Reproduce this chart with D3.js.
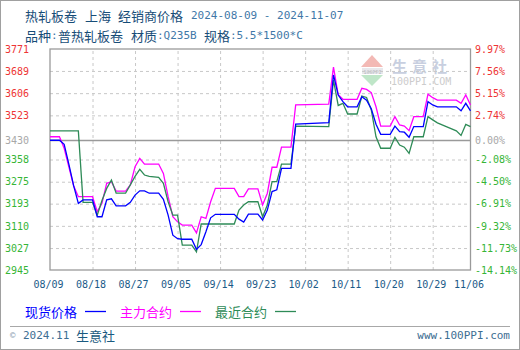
<!DOCTYPE html>
<html>
<head>
<meta charset="utf-8">
<script src="https://cdn.jsdelivr.net/npm/d3@7"></script>
<style>
  body { margin: 0; background: #fff; }
  svg { display: block; }
</style>
</head>
<body>
<div class="container"></div>
<script>
// 现货价格 (spot)
const spotDates = ["08/09","08/11","08/12","08/13","08/14","08/15","08/16","08/18","08/19","08/20","08/21","08/22","08/23","08/25","08/26","08/27","08/28","08/29","08/30","09/01","09/02","09/03","09/04","09/05","09/06","09/08","09/09","09/10","09/11","09/12","09/13","09/17","09/18","09/19","09/20","09/22","09/23","09/24","09/25","09/26","09/27","09/29","09/30","10/07","10/08","10/09","10/10","10/11","10/13","10/14","10/15","10/16","10/17","10/18","10/20","10/21","10/22","10/23","10/24","10/25","10/27","10/28","10/29","10/30","11/03","11/04","11/05","11/06"];
const spotPrices = [3430,3430,3415,3340,3260,3194,3207,3207,3144,3144,3207,3211,3185,3185,3198,3225,3241,3241,3232,3232,3209,3150,3075,3062,3060,3060,3022,3040,3088,3140,3153,3153,3135,3124,3154,3154,3132,3169,3238,3245,3325,3325,3490,3496,3674,3599,3574,3555,3555,3593,3580,3548,3490,3452,3452,3483,3462,3460,3441,3481,3481,3574,3562,3555,3555,3540,3568,3540];

// 主力合约 (main contract)
const mainDates = ["08/09","08/11","08/12","08/13","08/14","08/15","08/18","08/19","08/20","08/21","08/22","08/23","08/25","08/26","08/27","08/28","08/29","09/01","09/02","09/03","09/04","09/05","09/06","09/08","09/09","09/10","09/11","09/12","09/13","09/17","09/18","09/19","09/20","09/22","09/23","09/24","09/25","09/26","09/27","09/29","09/30","10/07","10/08","10/09","10/10","10/13","10/14","10/15","10/16","10/17","10/18","10/20","10/21","10/22","10/23","10/24","10/25","10/27","10/28","10/29","10/30","11/03","11/04","11/05","11/06"];
const mainPrices = [3443,3443,3400,3330,3260,3219,3219,3163,3194,3269,3275,3240,3240,3263,3331,3362,3341,3341,3306,3219,3144,3125,3113,3113,3084,3144,3138,3200,3250,3250,3219,3219,3248,3248,3188,3232,3329,3329,3404,3404,3562,3565,3703,3600,3583,3583,3624,3620,3608,3555,3483,3483,3518,3487,3483,3466,3518,3518,3602,3589,3580,3580,3568,3599,3562];

// 最近合约 (nearest contract)
const nearDates = ["08/09","08/15","08/16","08/18","08/19","08/20","08/21","08/22","08/23","08/25","08/26","08/27","08/28","08/29","08/30","09/01","09/02","09/03","09/04","09/05","09/06","09/08","09/09","09/10","09/17","09/18","09/19","09/20","09/22","09/23","09/24","09/25","09/26","09/27","09/29","09/30","10/07","10/08","10/09","10/10","10/11","10/13","10/14","10/15","10/16","10/17","10/18","10/20","10/21","10/22","10/23","10/24","10/25","10/27","10/28","10/29","10/30","11/01","11/03","11/04","11/05","11/06"];
const nearPrices = [3465,3465,3198,3198,3150,3205,3250,3281,3232,3232,3263,3295,3321,3300,3295,3291,3269,3200,3150,3150,3038,3038,3013,3117,3117,3169,3188,3200,3200,3144,3188,3275,3275,3341,3341,3483,3481,3655,3560,3568,3528,3528,3595,3590,3543,3443,3400,3400,3441,3412,3404,3381,3443,3443,3518,3506,3495,3480,3465,3448,3489,3481];

const xTickLabels = ["08/09","08/18","08/27","09/05","09/14","09/23","10/02","10/11","10/20","10/29","11/06"];
const yTickValues = [3771,3689,3606,3523,3430,3358,3275,3193,3110,3027,2945];
const pctTickLabels = ["9.97%","7.56%","5.15%","2.74%","0.00%","-2.08%","-4.50%","-6.91%","-9.32%","-11.73%","-14.14%"];
const basePrice = 3430;

const seriesNames = ["现货价格", "主力合约", "最近合约"];
const seriesColors = ["#0000ff", "#ff00ff", "#2e8b57"];

const parse = d3.timeParse("%Y/%m/%d");
const toDate = s => parse("2024/" + s);
const toPoints = (dates, vals) => dates.map((d, i) => ({ date: toDate(d), value: vals[i] }));

const mono = "'DejaVu Sans Mono', 'Liberation Mono', monospace";
const cjk = "'Noto Sans CJK SC', sans-serif";

let svg = d3.select(".container")
  .append("svg")
  .attr("width", 520)
  .attr("height", 350);

svg.append("rect")
  .attr("x", 0.5).attr("y", 0.5)
  .attr("width", 519).attr("height", 349)
  .attr("fill", "#fff")
  .attr("stroke", "#a0a0a0");

const plotLeft = 50, plotRight = 470.5, plotTop = 49, plotBottom = 270;
const x = d3.scaleTime().domain([toDate("08/09"), toDate("11/06")]).range([plotLeft, plotRight]);
const y = d3.scaleLinear().domain([2945, 3771]).range([plotBottom, plotTop]);

// title: [text, x, isAscii]
let title = svg.append("g").attr("class", "title");
function titleLine(yPos, parts) {
  parts.forEach(p => {
    title.append("text")
      .attr("x", p[1]).attr("y", yPos)
      .attr("dominant-baseline", "central")
      .attr("font-family", p[2] ? mono : cjk)
      .attr("font-size", p[2] ? 11 : 13)
      .attr("fill", p[2] ? "#3f78a8" : "#174d78")
      .text(p[0]);
  });
}
titleLine(15, [["热轧板卷", 25, 0], ["上海", 85, 0], ["经销商价格", 118, 0], ["2024-08-09 - 2024-11-07", 191, 1]]);
titleLine(35, [["品种", 25, 0], [":", 51, 1], ["普热轧板卷", 58, 0], ["材质", 131, 0], [":Q235B", 157, 1],
  ["规格", 204, 0], [":5.5*1500*C", 230, 1]]);

// watermark
let wm = svg.append("g").attr("class", "watermark");
wm.append("path").attr("d", "M372,55 L383,67 L361,67 Z").attr("fill", "#f3b9b5");
wm.append("rect").attr("x", 362).attr("y", 68).attr("width", 21).attr("height", 6).attr("fill", "#e8e8ec");
wm.append("text").attr("x", 372.5).attr("y", 71.5).attr("text-anchor", "middle").attr("dominant-baseline", "central")
  .attr("font-family", mono).attr("font-size", 5).attr("fill", "#b8b8c0").text("100PPI");
wm.append("path").attr("d", "M361,75 L383,75 L372,86 Z").attr("fill", "#bfe6c8");
wm.append("text").attr("x", 392).attr("y", 65).attr("dominant-baseline", "central")
  .attr("font-family", cjk).attr("font-size", 15).attr("font-weight", "bold")
  .attr("letter-spacing", 5).attr("fill", "#c8cfe0").text("生意社");
wm.append("text").attr("x", 391).attr("y", 81).attr("dominant-baseline", "central")
  .attr("font-family", mono).attr("font-size", 10).attr("fill", "#cccccc").text("100PPI.COM");

// grid
const xTicks = xTickLabels.map(toDate);
let grid = svg.append("g").attr("class", "grid");
grid.append("g")
  .attr("transform", `translate(0,${plotBottom})`)
  .call(d3.axisBottom(x).tickValues(xTicks.slice(1, -1)).tickSize(-(plotBottom - plotTop)).tickFormat(""))
  .call(g => g.select(".domain").remove())
  .call(g => g.selectAll("line").attr("stroke", "#c8c8c8").attr("stroke-dasharray", "3,3"));
grid.append("g")
  .attr("transform", `translate(${plotLeft},0)`)
  .call(d3.axisLeft(y).tickValues(yTickValues.filter(v => v !== basePrice && v !== 3771 && v !== 2945))
    .tickSize(-(plotRight - plotLeft)).tickFormat(""))
  .call(g => g.select(".domain").remove())
  .call(g => g.selectAll("line").attr("stroke", "#c8c8c8").attr("stroke-dasharray", "3,3"));

// base line
svg.append("line")
  .attr("x1", plotLeft).attr("x2", plotRight)
  .attr("y1", Math.round(y(basePrice)) + 0.5).attr("y2", Math.round(y(basePrice)) + 0.5)
  .attr("stroke", "#9a9a9a").attr("stroke-width", 1.3);

// frame
svg.append("rect")
  .attr("x", plotLeft).attr("y", plotTop)
  .attr("width", plotRight - plotLeft).attr("height", plotBottom - plotTop)
  .attr("fill", "none").attr("stroke", "#9a9a9a").attr("stroke-width", 1.3);

// series
const series = [
  { pts: toPoints(mainDates, mainPrices), color: seriesColors[1] },
  { pts: toPoints(nearDates, nearPrices), color: seriesColors[2] },
  { pts: toPoints(spotDates, spotPrices), color: seriesColors[0] }
];
const line = d3.line().x(d => x(d.date)).y(d => y(d.value));
svg.append("g").attr("class", "lines")
  .selectAll("path")
  .data(series)
  .join("path")
  .attr("d", d => line(d.pts))
  .attr("fill", "none")
  .attr("stroke", d => d.color)
  .attr("stroke-width", 1.3);

// axis labels
const labelColor = v => v > basePrice ? "#ee3434" : (v < basePrice ? "#36b536" : "#a8a8a8");

svg.append("g")
  .attr("transform", `translate(${plotLeft - 21},0)`)
  .call(d3.axisLeft(y).tickValues(yTickValues).tickSize(0).tickPadding(0).tickFormat(d3.format("d")))
  .call(g => g.select(".domain").remove())
  .call(g => g.selectAll("text")
    .attr("font-family", mono).attr("font-size", 10)
    .attr("fill", d => labelColor(d)));

svg.append("g")
  .attr("transform", `translate(${plotRight + 4.5},0)`)
  .call(d3.axisRight(y).tickValues(yTickValues).tickSize(0).tickPadding(0)
    .tickFormat((d, i) => pctTickLabels[i]))
  .call(g => g.select(".domain").remove())
  .call(g => g.selectAll("text")
    .attr("font-family", mono).attr("font-size", 10)
    .attr("fill", d => labelColor(d)));

svg.append("g")
  .attr("transform", `translate(-2,${plotBottom + 11})`)
  .call(d3.axisBottom(x).tickValues(xTicks).tickSize(0).tickPadding(0)
    .tickFormat((d, i) => xTickLabels[i]))
  .call(g => g.select(".domain").remove())
  .call(g => g.selectAll("text")
    .attr("font-family", mono).attr("font-size", 10)
    .attr("fill", "#1b5a88"));

// legend
let legend = svg.append("g").attr("class", "legend");
seriesNames.forEach((name, i) => {
  const lx = 25 + i * 95;
  legend.append("text")
    .attr("x", lx).attr("y", 311)
    .attr("dominant-baseline", "central")
    .attr("font-family", cjk).attr("font-size", 13)
    .attr("fill", seriesColors[i])
    .text(name);
  legend.append("line")
    .attr("x1", lx + 60).attr("x2", lx + 81)
    .attr("y1", 311.5).attr("y2", 311.5)
    .attr("stroke", seriesColors[i]).attr("stroke-width", 1.3);
});

// footer
svg.append("line")
  .attr("x1", 10).attr("x2", 510)
  .attr("y1", 326.5).attr("y2", 326.5)
  .attr("stroke", "#a8a8a8");
svg.append("text")
  .attr("x", 10).attr("y", 335).attr("dominant-baseline", "central")
  .attr("font-family", mono).attr("font-size", 9).attr("fill", "#8aa0b0").text("©");
svg.append("text")
  .attr("x", 23).attr("y", 335).attr("dominant-baseline", "central")
  .attr("font-family", mono).attr("font-size", 11).attr("fill", "#3d6e92").text("2024.11");
svg.append("text")
  .attr("x", 76).attr("y", 335).attr("dominant-baseline", "central")
  .attr("font-family", cjk).attr("font-size", 13).attr("fill", "#1a5a80").text("生意社");
svg.append("text")
  .attr("x", 510).attr("y", 335).attr("dominant-baseline", "central").attr("text-anchor", "end")
  .attr("font-family", mono).attr("font-size", 11).attr("fill", "#3d6e92").text("www.100PPI.com");
</script>
</body>
</html>
